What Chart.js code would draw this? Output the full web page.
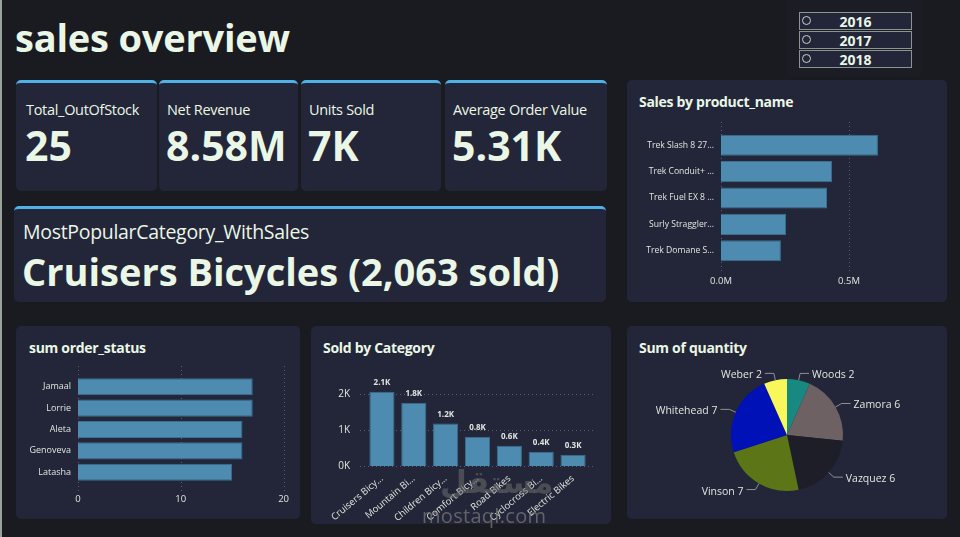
<!DOCTYPE html>
<html>
<head>
<meta charset="utf-8">
<script src="https://cdn.jsdelivr.net/npm/chart.js@4.4.1/dist/chart.umd.min.js"></script>
<style>
  body { margin: 0; width: 960px; height: 537px; background: #1a1b21; position: relative; overflow: hidden;
         font-family: "Open Sans", "Noto Sans", sans-serif; color: #eaf7e6; }
  .edge { position: absolute; left: 0; top: 0; width: 2px; height: 537px; background: #9aa39a; }
  .title { position: absolute; left: 15px; top: 11px; font-size: 38px; font-weight: 700; letter-spacing: -0.2px; }
  .card { position: absolute; background: #232638; border-radius: 5px; box-sizing: border-box; }
  .accent { border-top: 3px solid #4fb2e6; }
  .kpi-label { position: absolute; left: 10px; top: 17px; font-size: 14.5px; letter-spacing: -0.3px; white-space: nowrap; }
  .kpi-value { position: absolute; left: 9px; top: 34px; font-size: 41px; font-weight: 700; white-space: nowrap; }
  .ctitle { position: absolute; left: 12px; top: 12px; font-size: 14px; font-weight: 700; letter-spacing: -0.3px; }
  canvas { position: absolute; }
  .slicer { position: absolute; left: 786px; top: 0; width: 135px; height: 77px; background: #1c1d24; border-radius: 0 0 4px 4px; }
  .item { position: absolute; left: 13px; width: 111px; height: 16px; border: 1px solid #8b958f; background: #232638;
          font-weight: 700; font-size: 14px; line-height: 17px; text-align: center; }
  .item span.dot { position: absolute; left: 2px; top: 3px; width: 7px; height: 7px; border: 1px solid #c9d1cb; border-radius: 50%; }
  .wm { position: absolute; left: 422px; top: 502px; font-size: 20px; color: rgba(120,120,120,0.75); letter-spacing: 0.3px; }
  .wm-ar { position: absolute; left: 440px; top: 464px; font-size: 31px; font-weight: 700; color: rgba(110,110,110,0.55);
           font-family: "DejaVu Sans", sans-serif; }
</style>
</head>
<body>
<div class="edge"></div>
<div class="title">sales overview</div>

<div class="slicer">
  <div class="item" style="top:12px"><span class="dot"></span>2016</div>
  <div class="item" style="top:31px"><span class="dot"></span>2017</div>
  <div class="item" style="top:50px"><span class="dot"></span>2018</div>
</div>

<div class="card accent" style="left:16px;top:80px;width:141px;height:111px">
  <div class="kpi-label">Total_OutOfStock</div><div class="kpi-value">25</div></div>
<div class="card accent" style="left:159px;top:80px;width:139px;height:111px">
  <div class="kpi-label" style="left:8px">Net Revenue</div><div class="kpi-value" style="left:7px">8.58M</div></div>
<div class="card accent" style="left:301px;top:80px;width:140px;height:111px">
  <div class="kpi-label" style="left:8px">Units Sold</div><div class="kpi-value" style="left:7px">7K</div></div>
<div class="card accent" style="left:445px;top:80px;width:162px;height:111px">
  <div class="kpi-label" style="left:8px">Average Order Value</div><div class="kpi-value" style="left:7px">5.31K</div></div>

<div class="card accent" style="left:14px;top:206px;width:592px;height:96px">
  <div class="kpi-label" style="left:9px;top:9px;font-size:19.5px">MostPopularCategory_WithSales</div>
  <div class="kpi-value" style="left:8px;top:36px;font-size:38px">Cruisers Bicycles (2,063 sold)</div>
</div>

<div class="card" style="left:627px;top:80px;width:320px;height:222px"><div class="ctitle">Sales by product_name</div></div>
<div class="card" style="left:16px;top:326px;width:284px;height:193px"><div class="ctitle" style="left:13px">sum order_status</div></div>
<div class="card" style="left:311px;top:326px;width:300px;height:198px"><div class="ctitle">Sold by Category</div></div>
<div class="card" style="left:627px;top:326px;width:320px;height:193px"><div class="ctitle">Sum of quantity</div></div>

<canvas id="products" style="left:627px;top:115px" width="320" height="185"></canvas>
<canvas id="status" style="left:16px;top:360px" width="284" height="159"></canvas>
<canvas id="category" style="left:311px;top:360px" width="300" height="164"></canvas>
<canvas id="quantity" style="left:627px;top:360px" width="320" height="159"></canvas>

<div class="wm-ar">مستقل</div>
<div class="wm">mostaql.com</div>

<script>
// data
const productNames = ['Trek Slash 8 27...', 'Trek Conduit+ ...', 'Trek Fuel EX 8 ...', 'Surly Straggler...', 'Trek Domane S...']
const productSales = [613000, 434000, 414000, 254000, 234000]
const productTicks = [0, 500000]

const staffNames = ['Jamaal', 'Lorrie', 'Aleta', 'Genoveva', 'Latasha']
const staffOrders = [17, 17, 16, 16, 15]
const staffTicks = [0, 10, 20]

const categoryNames = ['Cruisers Bicy...', 'Mountain Bi...', 'Children Bicy...', 'Comfort Bicy...', 'Road Bikes', 'Cyclocross Bi...', 'Electric Bikes']
const categorySold = [2063, 1755, 1179, 813, 559, 394, 315]
const categoryTicks = [0, 1000, 2000]

const customerNames = ['Woods', 'Zamora', 'Vazquez', 'Vinson', 'Whitehead', 'Weber']
const customerQty = [2, 6, 6, 7, 7, 2]
const customerColors = ['#168a80', '#6d6163', '#1d1e28', '#5b7517', '#0011b8', '#f8f85c']

const barColor = '#4d8bb1'
const barEdge = '#3c6f8f'
const textColor = '#dfe6df'
const gridColor = '#5a5f70'

Chart.defaults.font.family = '"Open Sans", "Noto Sans", sans-serif'
Chart.defaults.color = textColor
Chart.defaults.animation = false

const useTicks = values => s => { s.ticks = values.map(v => ({ value: v })) }

// dotted grid lines that run a little past the plot area
const longGrid = {
    id: 'longGrid',
    beforeDatasetsDraw(chart, args, opts) {
        const ctx = chart.ctx
        const scale = chart.scales[opts.axis]
        const area = chart.chartArea
        ctx.save()
        ctx.strokeStyle = gridColor
        ctx.lineWidth = 1
        ctx.setLineDash([1, 3])
        scale.ticks.forEach(t => {
            const p = Math.round(scale.getPixelForValue(t.value)) + 0.5
            ctx.beginPath()
            if (opts.axis === 'x') {
                ctx.moveTo(p, area.top - opts.ext)
                ctx.lineTo(p, area.bottom + opts.ext)
            } else {
                ctx.moveTo(area.left - opts.ext, p)
                ctx.lineTo(area.right + opts.ext, p)
            }
            ctx.stroke()
        })
        ctx.restore()
    }
}

const hBarOptions = (yWidth, xHeight, max, ticks, fmt, pad, tickPad, labelSize) => ({
    indexAxis: 'y',
    responsive: false,
    layout: { padding: pad },
    plugins: { legend: { display: false }, tooltip: { enabled: false }, longGrid: { axis: 'x', ext: 10 } },
    scales: {
        x: {
            min: 0, max: max,
            border: { display: false },
            grid: { display: false, drawTicks: false },
            afterBuildTicks: useTicks(ticks),
            afterFit: s => { s.height = xHeight },
            ticks: { padding: tickPad, font: { size: 9.5 }, color: textColor, callback: fmt }
        },
        y: {
            border: { display: false },
            grid: { display: false, drawTicks: false },
            afterFit: s => { s.width = yWidth },
            ticks: { padding: 7, font: { size: labelSize }, color: textColor }
        }
    }
})

new Chart(document.getElementById('products'), {
    type: 'bar',
    data: {
        labels: productNames,
        datasets: [{ data: productSales, backgroundColor: barColor, borderColor: barEdge, borderWidth: 1, barPercentage: 0.8, categoryPercentage: 1 }]
    },
    options: hBarOptions(94, 26, 660000, productTicks, v => (v / 1000000).toFixed(1) + 'M', { top: 17, right: 57, bottom: 10 }, 12, 8.6),
    plugins: [longGrid]
})

new Chart(document.getElementById('status'), {
    type: 'bar',
    data: {
        labels: staffNames,
        datasets: [{ data: staffOrders, backgroundColor: barColor, borderColor: barEdge, borderWidth: 1, barPercentage: 0.8, categoryPercentage: 1 }]
    },
    options: hBarOptions(62, 24, 20, staffTicks, v => v, { top: 16, right: 16, bottom: 12 }, 11, 9),
    plugins: [longGrid]
})

// value labels over the columns
const topLabels = {
    id: 'topLabels',
    afterDatasetsDraw(chart) {
        const ctx = chart.ctx
        const meta = chart.getDatasetMeta(0)
        ctx.save()
        ctx.fillStyle = textColor
        ctx.font = 'bold 8px "Open Sans", sans-serif'
        ctx.textAlign = 'center'
        ctx.textBaseline = 'bottom'
        meta.data.forEach((bar, i) => {
            ctx.fillText((categorySold[i] / 1000).toFixed(1) + 'K', bar.x, bar.y - 5)
        })
        ctx.restore()
    }
}

new Chart(document.getElementById('category'), {
    type: 'bar',
    data: {
        labels: categoryNames,
        datasets: [{ data: categorySold, backgroundColor: barColor, borderColor: barEdge, borderWidth: 1, barPercentage: 0.79, categoryPercentage: 1 }]
    },
    options: {
        responsive: false,
        layout: { padding: { top: 17, right: 22, bottom: 0 } },
        plugins: { legend: { display: false }, tooltip: { enabled: false }, longGrid: { axis: 'y', ext: 6 } },
        scales: {
            y: {
                min: 0, max: 2330,
                border: { display: false },
                grid: { display: false, drawTicks: false },
                afterBuildTicks: useTicks(categoryTicks),
                afterFit: s => { s.width = 55 },
                ticks: { padding: 16, font: { size: 10 }, color: textColor, callback: v => (v / 1000) + 'K' }
            },
            x: {
                border: { display: false },
                grid: { display: false, drawTicks: false },
                afterFit: s => { s.height = 58 },
                ticks: { minRotation: 40, maxRotation: 40, autoSkip: false, padding: 7, font: { size: 9.5 }, color: textColor }
            }
        }
    },
    plugins: [longGrid, topLabels]
})

// outside labels with leader lines for the pie
const pieLabels = {
    id: 'pieLabels',
    afterDatasetsDraw(chart) {
        const ctx = chart.ctx
        const meta = chart.getDatasetMeta(0)
        ctx.save()
        ctx.font = '10.5px "Open Sans", sans-serif'
        ctx.textBaseline = 'middle'
        meta.data.forEach((arc, i) => {
            const mid = (arc.startAngle + arc.endAngle) / 2
            const r = arc.outerRadius
            const x0 = arc.x + Math.cos(mid) * r, y0 = arc.y + Math.sin(mid) * r
            const x1 = arc.x + Math.cos(mid) * (r + 7), y1 = arc.y + Math.sin(mid) * (r + 7)
            const right = Math.cos(mid) >= 0
            const x2 = x1 + (right ? 9 : -9)
            ctx.strokeStyle = '#8d9196'
            ctx.lineWidth = 1
            ctx.beginPath()
            ctx.moveTo(x0, y0)
            ctx.lineTo(x1, y1)
            ctx.lineTo(x2, y1)
            ctx.stroke()
            ctx.fillStyle = textColor
            ctx.textAlign = right ? 'left' : 'right'
            ctx.fillText(customerNames[i] + ' ' + customerQty[i], x2 + (right ? 3 : -3), y1 + 2)
        })
        ctx.restore()
    }
}

new Chart(document.getElementById('quantity'), {
    type: 'pie',
    data: {
        labels: customerNames,
        datasets: [{ data: customerQty, backgroundColor: customerColors, borderWidth: 0 }]
    },
    options: {
        responsive: false,
        layout: { padding: { top: 19, bottom: 28 } },
        plugins: { legend: { display: false }, tooltip: { enabled: false } }
    },
    plugins: [pieLabels]
})
</script>
</body>
</html>
